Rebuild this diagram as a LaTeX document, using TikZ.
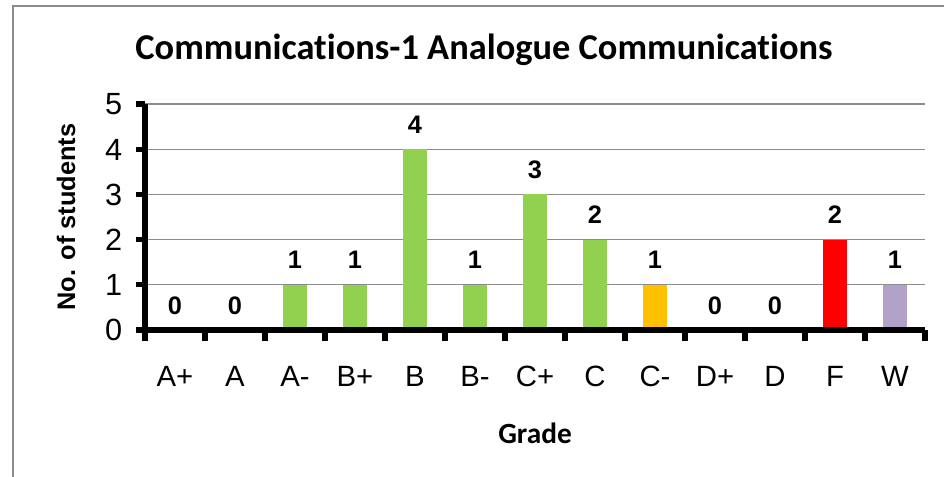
\documentclass[tikz,border=0pt]{standalone}
\usepackage{fontspec}
\setmainfont{Liberation Sans}
\newfontfamily\calibri[Ligatures=NoCommon]{Carlito}
\usepackage{xcolor}
\usetikzlibrary{positioning,calc}
\definecolor{barGreen}{HTML}{92D050}
\definecolor{barOrange}{HTML}{FFC000}
\definecolor{barRed}{HTML}{FF0000}
\definecolor{barLilac}{HTML}{B3A2C7}
\definecolor{gridGray}{RGB}{140,140,140}
\definecolor{frameGray}{RGB}{140,140,140}
\tikzset{
    vallbl/.style={anchor=base, yshift=12pt, inner sep=0pt, font=\fontsize{19}{22}\selectfont\bfseries},
    grdlbl/.style={anchor=base, yshift=-42.3pt, inner sep=0pt, font=\fontsize{22}{26}\selectfont},
    ticklbl/.style={anchor=base east, xshift=-17pt, yshift=-8.2pt, inner sep=0pt, font=\fontsize{23}{27}\selectfont},
}

\begin{document}
\begin{tikzpicture}[x=0.75pt, y=-0.75pt]
    \useasboundingbox (0,0) rectangle (944,476);
    % Chart area border (runs off the right and bottom)
    \draw[frameGray, line width=1.5pt] (13,490) -- (13,6) -- (960,6);

    % Title
    \node[anchor=base, inner sep=0pt, font=\calibri\bfseries\fontsize{27.3}{31}\selectfont] (title) at (484,59) {Communications-1 Analogue Communications};

    % Axis titles
    \node[anchor=base, rotate=90, inner sep=0pt, font=\fontsize{19}{22}\selectfont\bfseries] (ytitle) at (75,217) {No. of students};
    \node[anchor=base, inner sep=0pt, font=\calibri\bfseries\fontsize{22}{26}\selectfont] (xtitle) at (535,443) {Grade};

    % Plot area
    \begin{scope}[xshift=108.75pt, yshift=-247.5pt, x=45pt, y=33.9pt]
        % Gridlines
        \foreach \v in {1,...,5}
            \draw[gridGray, line width=1pt] (0,\v) -- (13,\v);

        % Bars with value labels
        \foreach \g/\n/\c [count=\i] in {A+/0/barGreen, A/0/barGreen, A-/1/barGreen, B+/1/barGreen, B/4/barGreen, B-/1/barGreen, C+/3/barGreen, C/2/barGreen, C-/1/barOrange, D+/0/barGreen, D/0/barGreen, F/2/barRed, W/1/barLilac} {
            \ifnum\n>0
                \fill[\c] (\i-0.7,0) rectangle (\i-0.3,\n);
            \fi
            \node[vallbl] (val\i) at (\i-0.5,\n) {\n};
            \node[grdlbl] (grd\i) at (\i-0.5,0) {\g};
        }

        % Axes and ticks
        \draw[line width=4pt] (0,5) -- (0,0) -- (13,0);
        \foreach \k in {0,...,13}
            \draw[line width=4pt] (\k,0) -- ++(0,-8pt);
        \foreach \v in {0,...,5} {
            \draw[line width=4pt] (0,\v) -- ++(-7pt,0);
            \node[ticklbl] (tick\v) at (0,\v) {\v};
        }
    \end{scope}
\end{tikzpicture}
\end{document}
